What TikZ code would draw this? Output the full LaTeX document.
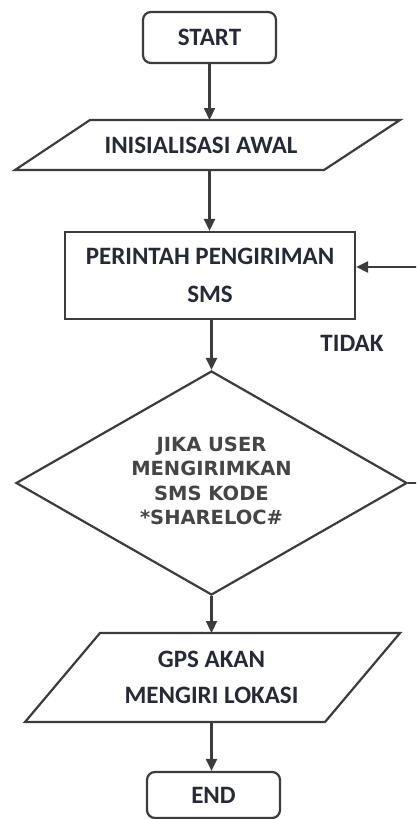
\documentclass[tikz,border=0pt]{standalone}
\usepackage{fontspec}
\setmainfont{Carlito}
\newfontfamily\dvfont{DejaVu Sans}
\usetikzlibrary{arrows.meta,shapes.geometric}
\definecolor{txt}{HTML}{262A36}
\definecolor{dtxt}{HTML}{454545}
\definecolor{ln}{HTML}{3C3C3C}
\begin{document}
\begin{tikzpicture}[x=1pt,y=-1pt,
  every node/.style={text=txt, inner sep=0pt},
  lbl/.style={font=\bfseries\fontsize{25}{38}\selectfont, align=center},
  lblreg/.style={font=\bfseries\fontsize{25}{36}\selectfont, align=center},
  term/.style={draw=ln, line width=2.2pt, rounded corners=8pt, fill=white},
  procbox/.style={draw=ln, line width=2.2pt},
  outline/.style={draw=ln, line width=2.2pt, line join=miter},
  conn/.style={draw=ln, line width=2.2pt, -{Triangle[length=12pt,width=11pt]}},
  dlbl/.style={text=dtxt, font=\dvfont\bfseries\fontsize{19.5}{24.5}\selectfont, align=center}]
\useasboundingbox (0,0) rectangle (416,819);
\clip (0,0) rectangle (416,819);
\fill[white] (0,0) rectangle (416,819);

% START
\node[term, lbl, minimum width=133pt, minimum height=51pt] (s) at (209.5,37.5) {START};

% INISIALISASI AWAL (parallelogram)
\coordinate (p1a) at (15,170);
\coordinate (p1b) at (90,120);
\coordinate (p1c) at (400,120);
\coordinate (p1d) at (324,170);
\draw[outline] (p1a) -- (p1b) -- (p1c) -- (p1d) -- cycle;
\node[lblreg, minimum height=50pt] (p1) at (201,145) {INISIALISASI AWAL};

% PERINTAH PENGIRIMAN SMS
\node[procbox, lbl, minimum width=290pt, minimum height=87pt] (r) at (210,275.5) {PERINTAH PENGIRIMAN\\[0pt]SMS};

% TIDAK
\node[lbl] (tidak) at (352,343) {TIDAK};

% Decision diamond
\node[diamond, draw=ln, line width=2.2pt, minimum width=391pt, minimum height=224pt] (d) at (211.5,483) {};
\node[dlbl] (dt) at (211.5,481) {JIKA USER\\MENGIRIMKAN\\SMS KODE\\*SHARELOC\#};

% GPS AKAN MENGIRI LOKASI (parallelogram)
\coordinate (p2a) at (25,722);
\coordinate (p2b) at (100,633);
\coordinate (p2c) at (400,633);
\coordinate (p2d) at (325,722);
\draw[outline] (p2a) -- (p2b) -- (p2c) -- (p2d) -- cycle;
\node[lblreg, minimum height=89pt] (p2) at (211.5,677.5) {GPS AKAN\\MENGIRI LOKASI};

% END
\node[term, lbl, minimum width=133pt, minimum height=46pt] (e) at (213.5,795) {END};

% Connectors
\draw[conn] (s.south) -- (s.south |- p1b);
\draw[conn] (s.south |- p1a) -- (s.south |- r.north);
\draw[conn] (d.north |- r.south) -- (d.north);
\draw[conn] (d.south) -- (d.south |- p2b);
\draw[conn] (d.south |- p2a) -- (d.south |- e.north);

% loop back (TIDAK)
\coordinate (c1) at (440,483);
\coordinate (c2) at (440,267);
\draw[conn] (d.east) -- (c1) -- (c2) -- (c2 -| r.east);
\end{tikzpicture}
\end{document}
